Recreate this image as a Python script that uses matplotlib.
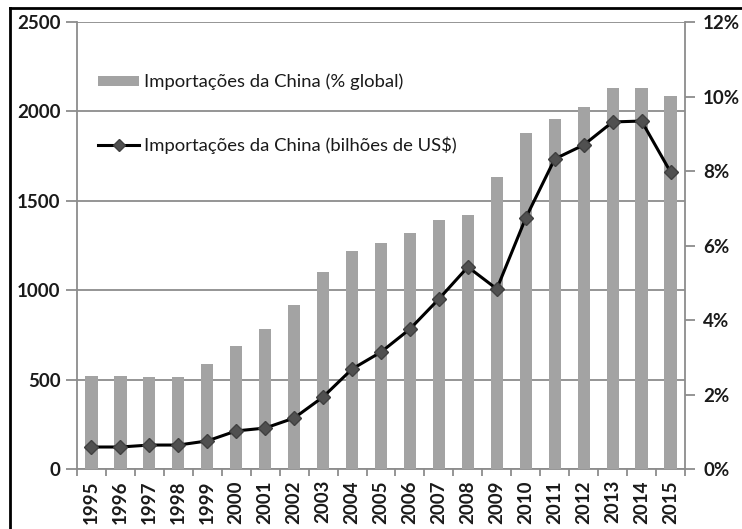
import numpy as np
import matplotlib
matplotlib.use("Agg")
import matplotlib.pyplot as plt
from matplotlib.patches import Rectangle
from matplotlib.lines import Line2D

# --- DATA ---
years = [str(y) for y in range(1995, 2016)]
share_pct = [2.50, 2.50, 2.47, 2.47, 2.82, 3.30, 3.76, 4.40, 5.29, 5.85, 6.07,
             6.34, 6.68, 6.82, 7.84, 9.02, 9.40, 9.72, 10.23, 10.23, 10.01]
imports_bn = [123, 123, 134, 134, 157, 213, 229, 285, 403, 559, 654,
              783, 951, 1130, 1007, 1404, 1734, 1812, 1941, 1946, 1661]
left_ticks = [0, 500, 1000, 1500, 2000, 2500]
right_ticks = [0, 2, 4, 6, 8, 10, 12]

label_bars = "Importações da China (% global)"
label_line = "Importações da China (bilhões de US$)"

# --- STYLE ---
plt.rcParams['font.family'] = ['Lato', 'DejaVu Sans']
TXT = '#1a1a1a'
GRID = '#8c8c8c'
BAR = '#a3a3a3'
TICK_FS = 13.5

fig = plt.figure(figsize=(7.42, 5.29), dpi=100)
ax = fig.add_axes([77 / 742, 1 - 469 / 529, 608 / 742, 447 / 529])
x = np.arange(len(years))

# left scale: grid + ticks
ax.set_ylim(0, 2500)
ax.set_yticks(left_ticks)
ax.set_yticklabels([str(v) for v in left_ticks], fontsize=TICK_FS, fontweight='bold', color=TXT)
ax.grid(axis='y', color=GRID, linewidth=1.3)
ax.set_xlim(-0.5, len(years) - 0.5)
ax.set_xticks(x)
ax.set_xticklabels(years, rotation=90, fontsize=TICK_FS, fontweight='bold', color=TXT)
ax.set_xticks(np.arange(len(years) + 1) - 0.5, minor=True)
ax.tick_params(axis='x', which='major', length=0, pad=8)
ax.tick_params(axis='x', which='minor', length=5, direction='out', color=GRID, width=1.3)
ax.tick_params(axis='y', length=8, direction='out', color=GRID, width=1.3, pad=4)
for side in ['top', 'right']:
    ax.spines[side].set_visible(False)
for side in ['left', 'bottom']:
    ax.spines[side].set_color(GRID)
    ax.spines[side].set_linewidth(1.3)

# right scale: share of global imports as bars
ax2 = ax.twinx()
ax2.bar(x, share_pct, width=0.42, color=BAR, edgecolor='none')
ax2.set_ylim(0, 12)
ax2.set_yticks(right_ticks)
ax2.set_yticklabels([f"{v}%" for v in right_ticks], fontsize=TICK_FS, fontweight='bold', color=TXT)
ax2.tick_params(axis='y', length=7, direction='out', color=GRID, width=1.3, pad=6)
for side in ['top', 'left', 'bottom']:
    ax2.spines[side].set_visible(False)
ax2.spines['right'].set_color(GRID)
ax2.spines['right'].set_linewidth(1.3)

# line on top of the bars, same scale as the left axis
ax3 = ax.twinx()
ax3.set_ylim(0, 2500)
ax3.plot(x, imports_bn, color='black', linewidth=2.2, marker='D', markersize=7,
         markerfacecolor='#505050', markeredgecolor='#404040', zorder=5)
ax3.axis('off')

handles = [Rectangle((0, 0), 1, 1, facecolor=BAR, edgecolor='none'),
           Line2D([], [], color='black', linewidth=2.2, marker='D', markersize=6,
                  markerfacecolor='#505050', markeredgecolor='#404040')]
leg = ax3.legend(handles, [label_bars, label_line], loc='upper left',
                 bbox_to_anchor=(0.035, 0.884), frameon=False, fontsize=13.3,
                 handlelength=2.2, handleheight=0.45, handletextpad=0.3,
                 labelspacing=2.5, borderaxespad=0, borderpad=0)
for t in leg.get_texts():
    t.set_color(TXT)

# black frame along the top and left edges
fig.add_artist(Line2D([10 / 742, 10 / 742], [0, 1 - 8 / 529], transform=fig.transFigure,
                      color='black', linewidth=2))
fig.add_artist(Line2D([10 / 742, 1], [1 - 8 / 529, 1 - 8 / 529], transform=fig.transFigure,
                      color='black', linewidth=2))

fig.savefig('out.png', dpi=100, facecolor='white')
